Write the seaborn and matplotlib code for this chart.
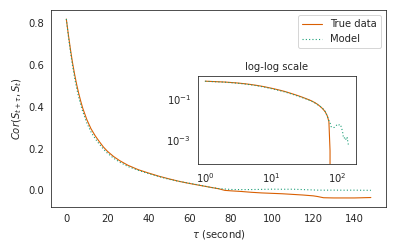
import numpy as np
import pandas as pd
import matplotlib
matplotlib.use("Agg")
import matplotlib.pyplot as plt
import seaborn as sns

# lag (seconds) and autocorrelation
tau = [0, 1, 2, 3, 4, 5, 6, 7, 8, 10, 12, 14, 16, 18, 20, 23, 26, 30, 35, 40,
       45, 50, 55, 60, 65, 70, 74, 77, 80, 85, 90, 95, 100, 105, 110, 115,
       120, 122, 125, 130, 135, 140, 144, 148]

true_corr = [0.82, 0.745, 0.675, 0.612, 0.557, 0.508, 0.465, 0.427, 0.393,
             0.338, 0.295, 0.262, 0.234, 0.208, 0.187, 0.162, 0.142, 0.12,
             0.099, 0.083, 0.068, 0.055, 0.043, 0.033, 0.024, 0.015, 0.008,
             0.0003, -0.002, -0.005, -0.009, -0.012, -0.014, -0.016, -0.019,
             -0.022, -0.026, -0.029, -0.035, -0.036, -0.036, -0.036, -0.035,
             -0.034]

model_corr = [0.82, 0.738, 0.664, 0.598, 0.54, 0.49, 0.447, 0.41, 0.377,
              0.322, 0.28, 0.248, 0.222, 0.198, 0.178, 0.154, 0.135, 0.114,
              0.096, 0.08, 0.066, 0.053, 0.043, 0.034, 0.025, 0.015, 0.009,
              0.007, 0.0045, 0.004, 0.0042, 0.005, 0.006, 0.0055, 0.0058,
              0.004, 0.0022, 0.0015, 0.0012, 0.0014, 0.001, 0.0013, 0.0007,
              0.0005]

labels = ["True data", "Model"]
colors = ["#d95f02", "#1b9e77"]

df = pd.DataFrame({
    "tau": tau * 2,
    "corr": true_corr + model_corr,
    "series": [labels[0]] * len(tau) + [labels[1]] * len(tau),
})

sns.set_style("white")

fig = plt.figure(figsize=(5.5, 3.5), dpi=72)
ax = fig.add_axes([0.129, 0.179, 0.846, 0.781])

sns.lineplot(data=df, x="tau", y="corr", hue="series", style="series",
             palette=colors, dashes=["", (1, 2)], linewidth=1.1, ax=ax)
ax.set_xlabel(r"$\tau$ (second)")
ax.set_ylabel(r"$Cor(S_{t+\tau}, S_t)$")
ax.set_xticks([0, 20, 40, 60, 80, 100, 120, 140])
ax.set_yticks([0.0, 0.2, 0.4, 0.6, 0.8])
ax.legend(loc="upper right", title=None)

# log-log inset
ins = fig.add_axes([0.5, 0.349, 0.399, 0.349])
pos = df[df["tau"] > 0]
sns.lineplot(data=pos, x="tau", y="corr", hue="series", style="series",
             palette=colors, dashes=["", (1, 2)], linewidth=1.1, ax=ins,
             legend=False)
ins.set_xscale("log")
ins.set_yscale("log")
ins.set_ylim(10 ** -4.17, 10 ** 0.12)
ins.set_yticks([1e-1, 1e-3])
ins.minorticks_off()
ins.set_xlabel("")
ins.set_ylabel("")
ins.set_title("log-log scale", fontsize=10)

fig.savefig("out.png", dpi=72)
